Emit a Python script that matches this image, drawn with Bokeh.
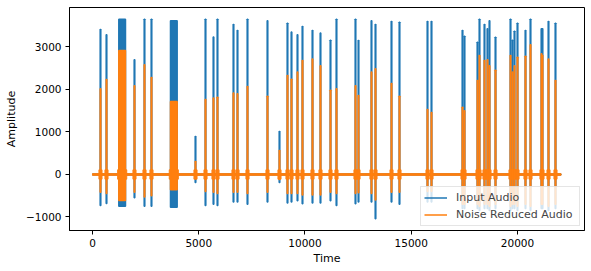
from bokeh.plotting import figure
from bokeh.models import Range1d, FixedTicker, Legend, LegendItem, ColumnDataSource
from bokeh.embed import file_html
from bokeh.resources import INLINE

# ---- data ----
n_samples = 22050
burst_start = [361, 644, 1238, 1961, 2432, 2761, 3670, 4832, 5303, 5679, 5867, 6620, 6809, 7279,
               8220, 8785, 9161, 9350, 9632, 9867, 10338, 10714, 11185, 11467, 12361, 12503,
               13114, 13303, 14056, 14432, 15750, 15938, 17397, 17491, 18103, 18197, 18432,
               18573, 18667, 18950, 19656, 19750, 19844, 19985, 20361, 20597, 21114, 21161,
               21444, 21773]
burst_end = [391, 674, 1553, 1991, 2462, 2791, 3985, 4862, 5333, 5709, 5897, 6650, 6839, 7309,
             8250, 8815, 9191, 9380, 9662, 9897, 10368, 10744, 11215, 11497, 12391, 12533,
             13144, 13333, 14086, 14462, 15780, 15968, 17427, 17521, 18133, 18227, 18462,
             18603, 18697, 18980, 19686, 19780, 19874, 20015, 20391, 20627, 21144, 21191,
             21474, 21803]
input_max = [3410, 3290, 3650, 2700, 3650, 3650, 3620, 894, 3650, 3235, 3650, 3530, 3390, 3650,
             3620, 1010, 3560, 3350, 3290, 3480, 3390, 3330, 3160, 3650, 3650, 3150, 3620, 3530,
             3600, 3580, 3600, 3600, 3390, 3250, 3110, 3650, 3530, 3430, 3620, 3230, 3650, 3160,
             3370, 3560, 3390, 3650, 3430, 3430, 3600, 3560]
input_min = [-730, -680, -750, -550, -750, -750, -770, -190, -730, -700, -730, -650, -650, -700,
             -650, -190, -670, -650, -620, -690, -670, -670, -620, -730, -690, -650, -650, -1040,
             -650, -700, -650, -650, -800, -800, -800, -850, -800, -800, -850, -800, -850, -800,
             -800, -850, -800, -850, -800, -800, -850, -800]
reduced_max = [2020, 2235, 2920, 2090, 2580, 2280, 1720, 306, 1765, 1800, 1820, 1920, 1900, 2070,
               1840, 565, 2330, 2240, 2410, 2680, 2720, 2560, 1980, 2020, 2090, 1860, 2410, 2490,
               2140, 1840, 1530, 1460, 1580, 1500, 2210, 2800, 2680, 2700, 2560, 2450, 2800, 2410,
               2560, 2760, 2780, 3050, 2840, 2800, 2720, 2210]
reduced_min = [-420, -450, -610, -420, -530, -500, -360, -100, -400, -420, -450, -420, -420, -450,
               -420, -120, -450, -450, -450, -480, -480, -480, -420, -450, -450, -430, -450, -600,
               -420, -420, -400, -400, -700, -700, -700, -750, -700, -700, -750, -700, -750, -700,
               -700, -750, -700, -750, -700, -700, -750, -700]
ripple = [110] * len(burst_start)
input_noise = 15
reduced_noise = 20
x_ticks = [0, 5000, 10000, 15000, 20000]
y_ticks = [-1000, 0, 1000, 2000, 3000]
series_labels = ["Input Audio", "Noise Reduced Audio"]

BLUE = "#1f77b4"
ORANGE = "#ff7f0e"
FONT = "DejaVu Sans"

p = figure(width=587, height=268, output_backend="svg", toolbar_location=None,
           x_range=Range1d(-1082, 23153), y_range=Range1d(-1318, 3929),
           min_border_left=69, min_border_right=3, min_border_top=7, min_border_bottom=38)
p.xgrid.visible = False
p.ygrid.visible = False
p.outline_line_color = "black"
p.outline_line_width = 1
p.background_fill_color = "white"

src = ColumnDataSource(dict(start=burst_start, end=burst_end, imax=input_max, imin=input_min,
                            rmax=reduced_max, rmin=reduced_min,
                            rl=[s - 60 for s in burst_start], rr=[e + 60 for e in burst_end],
                            rp=ripple, rn=[-r for r in ripple]))

# input audio
p.quad(left=[0], right=[n_samples], bottom=[-input_noise], top=[input_noise],
       fill_color=BLUE, line_color=BLUE, line_width=1)
p.quad(left="start", right="end", bottom="imin", top="imax", source=src,
       fill_color=BLUE, line_color=BLUE, line_width=1.5)
# noise reduced audio
p.quad(left=[0], right=[n_samples], bottom=[-reduced_noise], top=[reduced_noise],
       fill_color=ORANGE, line_color=ORANGE, line_width=1)
p.quad(left="rl", right="rr", bottom="rn", top="rp", source=src,
       fill_color=ORANGE, line_color=ORANGE, line_width=1, fill_alpha=0.85, line_alpha=0.85)
p.quad(left="start", right="end", bottom="rmin", top="rmax", source=src,
       fill_color=ORANGE, line_color=ORANGE, line_width=1.5)

# legend handles (kept outside the visible range)
leg_in = p.line(x=[-90000, -80000], y=[0, 0], line_color=BLUE, line_width=1.5)
leg_out = p.line(x=[-90000, -80000], y=[0, 0], line_color=ORANGE, line_width=1.5)

legend = Legend(items=[LegendItem(label=series_labels[0], renderers=[leg_in]),
                       LegendItem(label=series_labels[1], renderers=[leg_out])],
                location="bottom_right", margin=4, padding=3, spacing=2,
                glyph_width=23, glyph_height=15, label_height=15, label_standoff=9,
                label_width=120,
                label_text_font=FONT, label_text_font_size="11px",
                border_line_color="#cccccc", border_line_width=1,
                background_fill_color="white", background_fill_alpha=0.8)
p.add_layout(legend)

for ax in (p.xaxis, p.yaxis):
    ax.axis_line_color = "black"
    ax.major_tick_line_color = "black"
    ax.major_tick_out = 4
    ax.major_tick_in = 0
    ax.minor_tick_line_color = None
    ax.major_label_text_font = FONT
    ax.major_label_text_font_size = "10.5px"
    ax.major_label_text_color = "black"
    ax.axis_label_text_font = FONT
    ax.axis_label_text_font_size = "11px"
    ax.axis_label_text_font_style = "normal"
    ax.axis_label_text_color = "black"
    ax.major_label_standoff = 4

p.xaxis.ticker = FixedTicker(ticks=x_ticks)
p.yaxis.ticker = FixedTicker(ticks=y_ticks)
p.yaxis.major_label_overrides = {t: (f"\u2212{abs(t)}" if t < 0 else str(t)) for t in y_ticks}
p.xaxis.axis_label = "Time"
p.yaxis.axis_label = "Amplitude"
p.xaxis.axis_label_standoff = 2
p.yaxis.axis_label_standoff = 5

open("out.html", "w").write(file_html(p, INLINE))
